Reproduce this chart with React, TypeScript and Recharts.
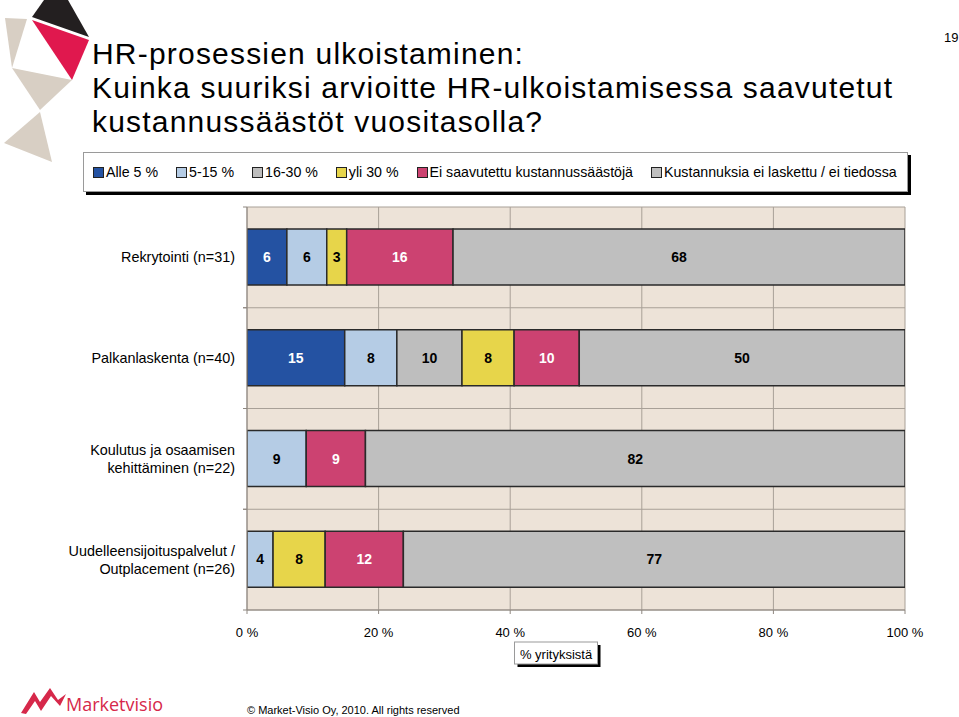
import React from "react";
import { BarChart, Bar, XAxis, YAxis, CartesianGrid, LabelList } from "recharts";

const categories = [
  "Rekrytointi (n=31)",
  "Palkanlaskenta (n=40)",
  "Koulutus ja osaamisen\nkehittäminen (n=22)",
  "Uudelleensijoituspalvelut /\nOutplacement (n=26)",
];
const seriesNames = [
  "Alle 5 %",
  "5-15 %",
  "16-30 %",
  "yli 30 %",
  "Ei saavutettu kustannussäästöjä",
  "Kustannuksia ei laskettu / ei tiedossa",
];
const alle5 = [6, 15, 0, 0];
const v5to15 = [6, 8, 9, 4];
const v16to30 = [0, 10, 0, 0];
const yli30 = [3, 8, 0, 8];
const eiSaavutettu = [16, 10, 9, 12];
const eiLaskettu = [68, 50, 82, 77];
const xTicks = [0, 0.2, 0.4, 0.6, 0.8, 1];

const seriesValues = [alle5, v5to15, v16to30, yli30, eiSaavutettu, eiLaskettu];
const seriesColors = ["#2452A2", "#B5CCE5", "#BEBEBE", "#E7D54A", "#CC4271", "#BFBFBF"];
const labelColors = ["#FFFFFF", "#000000", "#000000", "#000000", "#FFFFFF", "#000000"];

const data = categories.map((name, i) => {
  const row: Record<string, any> = { name };
  seriesValues.forEach((vals, s) => {
    row["s" + s] = vals[i];
  });
  return row;
});

const FONT = "'Liberation Sans', Arial, Helvetica, sans-serif";
const W = 959;
const H = 717;
const TOP = 207;
const PLOT_BOTTOM = 610;
const LEFT = 247;
const RIGHT = 905;
const XAXIS_H = 30;
const BAND = (PLOT_BOTTOM - TOP) / categories.length;

const YTick = (props: any) => {
  const { x, y, payload } = props;
  const lines = String(payload.value).split("\n");
  const lh = 18;
  const startDy = -((lines.length - 1) * lh) / 2 + 5;
  return (
    <g>
      <line x1={LEFT - 4} x2={LEFT} y1={y - BAND / 2} y2={y - BAND / 2} stroke="#8E8780" />
      <line x1={LEFT - 4} x2={LEFT} y1={y + BAND / 2} y2={y + BAND / 2} stroke="#8E8780" />
      <text x={x} y={y} textAnchor="end" fontSize={14.4} fontFamily={FONT} fill="#000">
        {lines.map((l, i) => (
          <tspan key={i} x={x} dy={i === 0 ? startDy : lh}>
            {l}
          </tspan>
        ))}
      </text>
    </g>
  );
};

const makeLabel = (color: string) => (props: any) => {
  const { x, y, width, height, value } = props;
  if (!value) return null;
  return (
    <text
      x={Number(x) + Number(width) / 2}
      y={Number(y) + Number(height) / 2}
      textAnchor="middle"
      dominantBaseline="central"
      fontSize={14}
      fontWeight="bold"
      fontFamily={FONT}
      fill={color}
    >
      {value}
    </text>
  );
};

const AxisTitle = (props: any) => {
  const vb = props.viewBox || {};
  const cx = (vb.x ?? LEFT) + (vb.width ?? RIGHT - LEFT) / 2 - 20;
  const top = (vb.y ?? PLOT_BOTTOM) + 32;
  const w = 83;
  const h = 22;
  return (
    <g>
      <rect x={cx - w / 2 + 3} y={top + 3} width={w} height={h} fill="#000" />
      <rect x={cx - w / 2} y={top} width={w} height={h} fill="#fff" stroke="#9A9A9A" strokeWidth={1} />
      <text x={cx} y={top + h / 2 + 1} textAnchor="middle" dominantBaseline="central" fontSize={13} fontFamily={FONT} fill="#000">
        % yrityksistä
      </text>
    </g>
  );
};

const gridH = (props: any) => {
  const off = props.offset || {};
  const top = off.top ?? TOP;
  const h = off.height ?? PLOT_BOTTOM - TOP;
  return categories.map((_, k) => top + (k * h) / categories.length).concat([top + h]);
};

const Legend = () => (
  <div
    style={{
      position: "absolute",
      left: 83,
      top: 152,
      width: 825,
      height: 40,
      border: "1px solid #9A9A9A",
      boxShadow: "3px 3px 0 #000",
      background: "#fff",
      display: "flex",
      alignItems: "center",
      paddingLeft: 9,
      boxSizing: "border-box",
      fontFamily: FONT,
      fontSize: 14.2,
      color: "#000",
      whiteSpace: "nowrap",
    }}
  >
    {seriesNames.map((n, i) => (
      <div key={n} style={{ display: "flex", alignItems: "center", marginRight: 18 }}>
        <span
          style={{
            display: "inline-block",
            width: 9,
            height: 9,
            background: seriesColors[i],
            border: "1px solid #222",
            marginRight: 2,
          }}
        />
        <span>{n}</span>
      </div>
    ))}
  </div>
);

const TopLogo = () => (
  <svg width={100} height={165} style={{ position: "absolute", left: 0, top: 0 }}>
    <polygon points="32,17 44,0 68,0 89,37" fill="#231F20" />
    <polygon points="32,20 89,40 72,80" fill="#E0184E" />
    <polygon points="5,18 27,19 12,68" fill="#D8CFC4" />
    <polygon points="12,68 72,80 40,110" fill="#D8CFC4" />
    <polygon points="40,112 4,143 52,162" fill="#D8CFC4" />
  </svg>
);

const BottomLogo = () => (
  <svg width={240} height={36} style={{ position: "absolute", left: 0, top: 680 }}>
    <polygon points="21,33 34,12 40,22 50,8 58,20 66,14 60,26 51,16 41,31 35,21 26,34" fill="#D6284A" />
    <text x={66} y={31} fontSize={18} fontFamily="'Open Sans', 'Liberation Sans', sans-serif" fill="#D6284A">
      Marketvisio
    </text>
  </svg>
);

const titleLines = [
  "HR-prosessien ulkoistaminen:",
  "Kuinka suuriksi arvioitte HR-ulkoistamisessa saavutetut",
  "kustannussäästöt vuositasolla?",
];

export default function App() {
  return (
    <div
      style={{
        position: "absolute",
        left: 0,
        top: 0,
        width: W,
        height: H,
        background: "#fff",
        fontFamily: FONT,
        overflow: "hidden",
      }}
    >
      <TopLogo />
      <div
        style={{
          position: "absolute",
          left: 92,
          top: 37,
          fontSize: 30,
          lineHeight: "34px",
          letterSpacing: "1.2px",
          color: "#000",
          whiteSpace: "nowrap",
        }}
      >
        {titleLines.map((t) => (
          <div key={t}>{t}</div>
        ))}
      </div>
      <div style={{ position: "absolute", left: 944, top: 30, fontSize: 13, color: "#000" }}>19</div>
      <Legend />
      <div style={{ position: "absolute", left: 0, top: 0 }}>
        <BarChart
          width={W}
          height={H}
          data={data}
          layout="vertical"
          stackOffset="expand"
          margin={{ top: TOP, right: W - RIGHT, bottom: H - PLOT_BOTTOM - XAXIS_H, left: 0 }}
        >
          <CartesianGrid
            fill="#EDE3D8"
            fillOpacity={1}
            stroke="#A8A097"
            strokeWidth={1}
            horizontalCoordinatesGenerator={gridH}
          />
          <XAxis
            type="number"
            domain={[0, 1]}
            ticks={xTicks}
            height={XAXIS_H}
            tickFormatter={(v: number) => `${Math.round(v * 100)} %`}
            tick={{ fontSize: 13, fill: "#000", fontFamily: FONT }}
            tickSize={4}
            tickMargin={14}
            axisLine={{ stroke: "#8E8780" }}
            tickLine={{ stroke: "#8E8780" }}
            label={<AxisTitle />}
            allowDataOverflow
          />
          <YAxis
            type="category"
            dataKey="name"
            width={LEFT}
            tick={<YTick />}
            tickLine={false}
            tickMargin={6}
            axisLine={{ stroke: "#8E8780" }}
            interval={0}
          />
          {seriesNames.map((n, s) => (
            <Bar
              key={n}
              dataKey={"s" + s}
              name={n}
              stackId="a"
              fill={seriesColors[s]}
              stroke="#2A2A2A"
              strokeWidth={1.5}
              barSize={56}
              isAnimationActive={false}
            >
              <LabelList dataKey={"s" + s} content={makeLabel(labelColors[s])} />
            </Bar>
          ))}
        </BarChart>
      </div>
      <BottomLogo />
      <div style={{ position: "absolute", left: 247, top: 704, fontSize: 11, color: "#000", whiteSpace: "nowrap" }}>
        © Market-Visio Oy, 2010. All rights reserved
      </div>
    </div>
  );
}
